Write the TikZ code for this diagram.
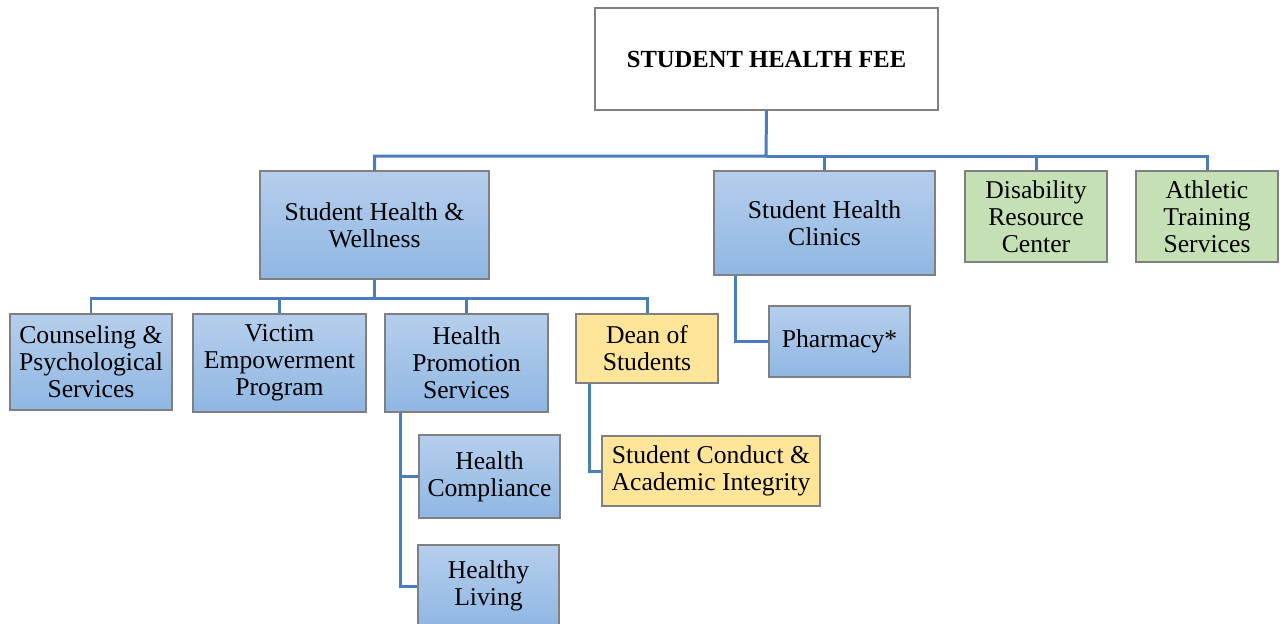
\documentclass[tikz,border=0pt]{standalone}
\usepackage{fontspec}
\setmainfont{Liberation Serif}
\usepackage{xcolor}
\usepackage{tikz}
\usetikzlibrary{positioning}
\definecolor{linkblue}{RGB}{74,126,187}
\definecolor{boxgray}{RGB}{128,128,128}
\definecolor{bluetop}{RGB}{182,206,236}
\definecolor{bluebot}{RGB}{143,183,227}
\definecolor{deanyellow}{RGB}{255,229,153}
\definecolor{sportgreen}{RGB}{197,224,180}
\tikzstyle{box} = [rectangle, draw=boxgray, line width=0.7pt, align=center,
inner sep=0pt, font=\fontsize{14.6}{15.4}\selectfont]
\tikzstyle{bluebox} = [box, top color=bluetop, bottom color=bluebot]
\tikzstyle{yellowbox} = [box, fill=deanyellow]
\tikzstyle{greenbox} = [box, fill=sportgreen]
\tikzstyle{line} = [draw=linkblue, line width=1.7pt]
\begin{document}
\begin{tikzpicture}[x=0.02cm, y=-0.02cm]
    \useasboundingbox (0,0) rectangle (1283,623);
    % nodes
    \node [box, fill=white, font=\fontsize{14}{15.5}\selectfont\bfseries,
      minimum width=6.86cm, minimum height=2.04cm] (fee) at (766.5,59) {STUDENT HEALTH FEE};
    \node [bluebox, minimum width=4.58cm, minimum height=2.16cm] (shw) at (374.5,225) {Student Health \&\\Wellness};
    \node [bluebox, minimum width=4.42cm, minimum height=2.08cm] (clinics) at (824.5,223) {Student Health\\Clinics};
    \node [greenbox, minimum width=2.84cm, minimum height=1.82cm] (drc) at (1036,216.5) {Disability\\Resource\\Center};
    \node [greenbox, minimum width=2.84cm, minimum height=1.82cm] (ats) at (1207,216.5) {Athletic\\Training\\Services};
    \node [bluebox, minimum width=3.24cm, minimum height=1.92cm] (caps) at (91,362) {Counseling \&\\Psychological\\Services};
    \node [bluebox, minimum width=3.46cm, minimum height=1.96cm] (vep) at (279.5,363) {Victim\\Empowerment\\Program};
    \node [bluebox, minimum width=3.26cm, minimum height=1.96cm] (hps) at (466.5,363) {Health\\Promotion\\Services};
    \node [yellowbox, minimum width=2.84cm, minimum height=1.38cm] (dos) at (647,348.5) {Dean of\\Students};
    \node [bluebox, minimum width=2.82cm, minimum height=1.66cm] (hc) at (489.5,476.5) {Health\\Compliance};
    \node [bluebox, minimum width=2.82cm, minimum height=1.64cm] (hl) at (488.5,586) {Healthy\\Living};
    \node [yellowbox, minimum width=4.36cm, minimum height=1.40cm] (scai) at (711,471) {Student Conduct \&\\Academic Integrity};
    \node [bluebox, minimum width=2.82cm, minimum height=1.42cm] (pharm) at (839.5,341.5) {Pharmacy*};
    \coordinate (bus1) at (766,156);
    \coordinate (bus2) at (374.5,298);

    % edges
    \draw [line] (fee.south) -- (bus1) -| (shw.north);
    \draw [line] (bus1) -| (clinics.north);
    \draw [line] (bus1) -| (drc.north);
    \draw [line] (bus1) -| (ats.north);
    \draw [line] (shw.south) -- (bus2) -| (caps.north);
    \draw [line] (bus2) -| (vep.north);
    \draw [line] (bus2) -| (hps.north);
    \draw [line] (bus2) -| (dos.north);
    \draw [line] ([xshift=0.32cm]hps.south west) |- (hc.west);
    \draw [line] ([xshift=0.32cm]hps.south west) |- (hl.west);
    \draw [line] ([xshift=0.28cm]dos.south west) |- (scai.west);
    \draw [line] ([xshift=0.44cm]clinics.south west) |- (pharm.west);
\end{tikzpicture}
\end{document}
